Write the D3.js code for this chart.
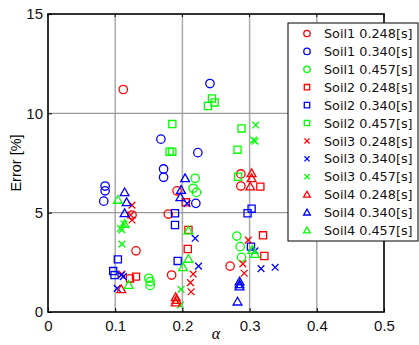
<!DOCTYPE html>
<html>
<head>
<meta charset="utf-8">
<script src="https://cdn.jsdelivr.net/npm/d3@7"></script>
<style>
  body { margin: 0; background: #fff; }
  svg { display: block; }
</style>
</head>
<body>
<div id="chart"></div>
<script>
// axis ticks
const xTicks = [0, 0.1, 0.2, 0.3, 0.4, 0.5];
const yTicks = [0, 5, 10, 15];

// series labels
const soils = ['Soil1', 'Soil2', 'Soil3', 'Soil4'];
const periods = ['0.248', '0.340', '0.457'];

// [alpha, error %]
const soil1_248 = [[0.112, 11.2], [0.125, 4.88], [0.131, 3.08], [0.192, 6.1], [0.179, 4.93], [0.184, 1.86], [0.287, 6.95], [0.287, 6.34], [0.271, 2.31]];
const soil1_340 = [[0.085, 6.34], [0.085, 6.1], [0.083, 5.58], [0.241, 11.5], [0.168, 8.7], [0.223, 8.02], [0.172, 7.2], [0.172, 6.78], [0.220, 5.47]];
const soil1_457 = [[0.150, 1.70], [0.152, 1.53], [0.152, 1.34], [0.219, 6.73], [0.216, 6.23], [0.221, 6.02], [0.281, 3.82], [0.286, 3.29], [0.288, 2.75]];
const soil2_248 = [[0.122, 1.69], [0.131, 1.78], [0.205, 5.52], [0.209, 4.13], [0.208, 3.17], [0.316, 6.31], [0.320, 3.86], [0.322, 2.82]];
const soil2_340 = [[0.104, 2.65], [0.097, 2.06], [0.099, 1.86], [0.189, 4.97], [0.189, 4.38], [0.193, 2.57], [0.297, 4.97], [0.303, 5.2], [0.302, 3.29]];
const soil2_457 = [[0.244, 10.75], [0.248, 10.55], [0.238, 10.37], [0.185, 9.46], [0.288, 9.24], [0.282, 8.17], [0.181, 8.07], [0.185, 8.07], [0.283, 6.81]];
const soil3_248 = [[0.125, 5.38], [0.123, 4.88], [0.125, 4.63], [0.110, 1.91], [0.216, 1.91], [0.212, 1.48], [0.213, 1.02], [0.298, 3.62], [0.290, 2.42], [0.292, 1.95]];
const soil3_340 = [[0.103, 1.19], [0.109, 1.86], [0.112, 1.78], [0.219, 3.71], [0.224, 2.31], [0.207, 5.47], [0.308, 3.08], [0.317, 2.18], [0.338, 2.25]];
const soil3_457 = [[0.108, 4.21], [0.110, 4.13], [0.113, 4.43], [0.110, 3.42], [0.309, 9.41], [0.306, 8.66], [0.308, 8.6], [0.198, 1.14], [0.197, 0.35]];
const soil4_248 = [[0.109, 1.14], [0.190, 0.74], [0.191, 0.6], [0.190, 0.47], [0.303, 6.98], [0.303, 6.73], [0.301, 6.31]];
const soil4_340 = [[0.114, 6.02], [0.117, 5.52], [0.114, 4.97], [0.204, 6.73], [0.198, 6.14], [0.197, 5.77], [0.285, 1.53], [0.285, 1.39], [0.285, 1.28], [0.282, 0.52]];
const soil4_457 = [[0.104, 5.64], [0.114, 4.43], [0.120, 1.36], [0.209, 2.67], [0.201, 2.25], [0.209, 4.1], [0.304, 3.12], [0.308, 2.92]];

const seriesData = [
  soil1_248, soil1_340, soil1_457,
  soil2_248, soil2_340, soil2_457,
  soil3_248, soil3_340, soil3_457,
  soil4_248, soil4_340, soil4_457
];

const colors = ['#ff0000', '#0000ff', '#00ff00'];
const shapes = ['circle', 'square', 'cross', 'triangle'];

const W = 419, H = 345;
const margin = { top: 14, right: 35, bottom: 33, left: 48 };
const width = W - margin.left - margin.right;
const height = H - margin.top - margin.bottom;

const svg = d3.select('#chart').append('svg')
  .attr('width', W)
  .attr('height', H);

const g = svg.append('g')
  .attr('transform', `translate(${margin.left},${margin.top})`);

const x = d3.scaleLinear().domain([0, 0.5]).range([0, width]);
const y = d3.scaleLinear().domain([0, 15]).range([height, 0]);

// grid
g.append('g')
  .selectAll('line.vx')
  .data(xTicks.slice(1, -1))
  .enter().append('line')
    .attr('x1', d => x(d)).attr('x2', d => x(d))
    .attr('y1', 0).attr('y2', height)
    .attr('stroke', '#aaaaaa')
    .attr('stroke-width', 1.5);

g.append('g')
  .selectAll('line.hy')
  .data(yTicks.slice(1, -1))
  .enter().append('line')
    .attr('x1', 0).attr('x2', width)
    .attr('y1', d => y(d)).attr('y2', d => y(d))
    .attr('stroke', '#999999')
    .attr('stroke-width', 1.2);

// marker paths
function markerPath(shape, s) {
  if (shape === 'circle') {
    return `M${s},0A${s},${s} 0 1,1 ${-s},0A${s},${s} 0 1,1 ${s},0Z`;
  } else if (shape === 'square') {
    const h = s * 0.85;
    return `M${-h},${-h}H${h}V${h}H${-h}Z`;
  } else if (shape === 'cross') {
    const h = s * 0.8;
    return `M${-h},${-h}L${h},${h}M${-h},${h}L${h},${-h}`;
  } else {
    const h = s * 1.05;
    return `M0,${-h}L${h},${h * 0.75}L${-h},${h * 0.75}Z`;
  }
}

// points
seriesData.forEach((pts, i) => {
  const shape = shapes[Math.floor(i / 3)];
  const color = colors[i % 3];
  g.append('g')
    .selectAll('path')
    .data(pts)
    .enter().append('path')
      .attr('transform', d => `translate(${x(d[0])},${y(d[1])})`)
      .attr('d', markerPath(shape, 4.2))
      .attr('fill', 'none')
      .attr('stroke', color)
      .attr('stroke-width', 1.3);
});

// axes
const xAxis = d3.axisBottom(x).tickValues(xTicks).tickFormat(d => d === 0 ? '0' : d3.format('.1f')(d)).tickSize(-4).tickPadding(8);
const yAxis = d3.axisLeft(y).tickValues(yTicks).tickFormat(d3.format('d')).tickSize(-4).tickPadding(5);

const gx = g.append('g').attr('transform', `translate(0,${height})`).call(xAxis);
const gy = g.append('g').call(yAxis);
[gx, gy].forEach(a => {
  a.select('.domain').remove();
  a.selectAll('line').attr('stroke', '#000');
  a.selectAll('text')
    .attr('fill', '#111')
    .style('font-family', '"Liberation Sans", Arial, sans-serif')
    .style('font-size', '15px');
});

// top ticks
g.append('g')
  .selectAll('line')
  .data(xTicks)
  .enter().append('line')
    .attr('x1', d => x(d)).attr('x2', d => x(d))
    .attr('y1', 0).attr('y2', 3)
    .attr('stroke', '#000');

// frame
g.append('rect')
  .attr('width', width).attr('height', height)
  .attr('fill', 'none')
  .attr('stroke', '#000')
  .attr('stroke-width', 1.6);

// axis titles
svg.append('text')
  .attr('transform', `translate(17,${margin.top + height / 2}) rotate(-90)`)
  .attr('text-anchor', 'middle')
  .attr('dominant-baseline', 'middle')
  .style('font-family', '"Liberation Sans", Arial, sans-serif')
  .style('font-size', '14.5px')
  .text('Error [%]');

svg.append('text')
  .attr('x', margin.left + width / 2)
  .attr('y', 339)
  .attr('text-anchor', 'middle')
  .style('font-family', '"Liberation Serif", serif')
  .style('font-style', 'italic')
  .style('font-size', '16px')
  .text('α');

// legend
const legend = svg.append('g').attr('transform', 'translate(288,23)');
legend.append('rect')
  .attr('width', 130).attr('height', 218)
  .attr('fill', '#fff')
  .attr('stroke', '#000')
  .attr('stroke-width', 1);

const labels = [];
soils.forEach(s => periods.forEach(p => labels.push(`${s} ${p}[s]`)));

const rows = legend.selectAll('g.row')
  .data(labels)
  .enter().append('g')
    .attr('transform', (d, i) => `translate(0,${10.5 + i * 17.9})`);

rows.append('path')
  .attr('transform', 'translate(19,0)')
  .attr('d', (d, i) => markerPath(shapes[Math.floor(i / 3)], 3.2))
  .attr('fill', 'none')
  .attr('stroke', (d, i) => colors[i % 3])
  .attr('stroke-width', 1.3);

rows.append('text')
  .attr('x', 36)
  .attr('dy', '0.36em')
  .style('font-family', '"DejaVu Sans", sans-serif')
  .style('font-size', '12.8px')
  .attr('fill', '#111')
  .text(d => d);
</script>
</body>
</html>
